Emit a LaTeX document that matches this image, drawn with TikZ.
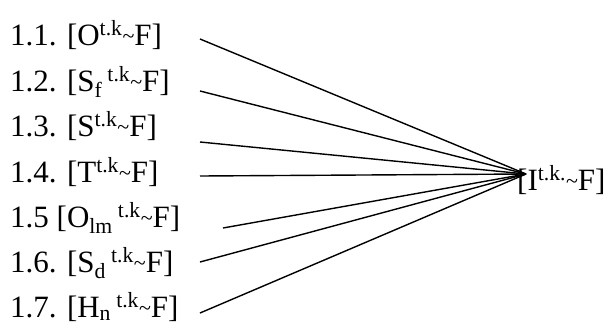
\documentclass[tikz,border=0pt]{standalone}
\usepackage{fontspec}
\setmainfont{Liberation Serif}
\newcommand{\tld}{\raisebox{2pt}{\fontsize{22}{22}\selectfont\textasciitilde}}
\begin{document}
\begin{tikzpicture}[
  x=1pt, y=-1pt,
  every node/.style={font=\fontsize{31}{36}\selectfont, inner sep=0pt, anchor=base west},
  ray/.style={line width=1.4pt}
]
\useasboundingbox (0,0) rectangle (614,325);
\node (l1) at (10,45)  {1.1. [O\textsuperscript{t.k}\tld F]};
\node (l2) at (10,91)  {1.2. [S\textsubscript{f}\,\textsuperscript{t.k}\tld F]};
\node (l3) at (10,136) {1.3. [S\textsuperscript{t.k}\tld F]};
\node (l4) at (10,182) {1.4. [T\textsuperscript{t.k}\tld F]};
\node (l5) at (10,227) {1.5 [O\textsubscript{lm}\,\textsuperscript{t.k}\tld F]};
\node (l6) at (10,272) {1.6. [S\textsubscript{d}\,\textsuperscript{t.k}\tld F]};
\node (l7) at (10,317) {1.7. [H\textsubscript{n}\,\textsuperscript{t.k}\tld F]};
\node (t) at (517,190) {[I\textsuperscript{t.k.}\tld F]};
% start points of the rays
\coordinate (s1) at (200,39);
\coordinate (s2) at (200,91);
\coordinate (s3) at (200,142);
\coordinate (s4) at (200,176);
\coordinate (s5) at (223,228);
\coordinate (s6) at (200,262);
\coordinate (s7) at (200,313);
\coordinate (c) at (526,174);
\foreach \i in {1,...,7}
  \draw[ray] (s\i) -- (c);
\end{tikzpicture}
\end{document}
